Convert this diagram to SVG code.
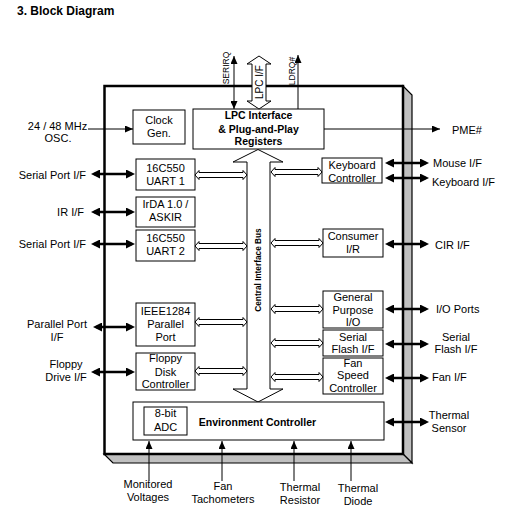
<svg xmlns="http://www.w3.org/2000/svg" width="515" height="525" viewBox="0 0 515 525">
<style>
text{font-family:"Liberation Sans",Arial,sans-serif;fill:#000}
.t{font-size:11px}
.c{text-anchor:middle}
.e{text-anchor:end}
.b{font-weight:bold;font-size:10.5px}
.r{font-size:8.5px;text-anchor:middle}
.box{fill:#fff;stroke:#000;stroke-width:1}
.bold{stroke:#000;stroke-width:2.5;fill:none;marker-start:url(#bh);marker-end:url(#bh)}
.thin{stroke:#000;stroke-width:1;fill:none;marker-end:url(#th)}
.thin2{stroke:#000;stroke-width:1;fill:none;marker-start:url(#th);marker-end:url(#th)}
.hol{fill:#fff;stroke:#000;stroke-width:1}
</style>
<defs>
<marker id="bh" viewBox="0 0 9 9" refX="6" refY="4.5" markerWidth="9" markerHeight="9" markerUnits="userSpaceOnUse" orient="auto-start-reverse"><path d="M0,0 L9,4.5 L0,9 z" fill="#000"/></marker>
<marker id="th" viewBox="0 0 8 7" refX="8" refY="3.5" markerWidth="8" markerHeight="7" markerUnits="userSpaceOnUse" orient="auto-start-reverse"><path d="M0,0 L8,3.5 L0,7 z" fill="#000"/></marker>
</defs>
<rect width="515" height="525" fill="#fff"/>
<text x="17" y="14.5" style="font-weight:bold;font-size:12px">3. Block Diagram</text>

<g id="chip">
<polygon points="403,86 412,95 412,463 403,454" fill="#c0c0c0" stroke="#000" stroke-width="1.2"/>
<polygon points="104,454 113,463 412,463 403,454" fill="#c0c0c0" stroke="#000" stroke-width="1.2"/>
<rect x="104.5" y="86" width="298.5" height="368" fill="none" stroke="#000" stroke-width="2.5"/>
</g>

<g id="bus">
<polygon class="hol" points="258,149.5 283,162 270,162 270,389 283,389 258,402 233,389 247,389 247,162 233,162"/>
<text transform="translate(261,270) rotate(-90)" style="font-size:8.3px;font-weight:bold;text-anchor:middle">Central Interface Bus</text>
</g>

<g id="lpc">
<rect class="box" x="193" y="109" width="131" height="40"/>
<text class="b c" x="258.5" y="119">LPC Interface</text>
<text class="b c" x="258.5" y="133">&amp; Plug-and-Play</text>
<text class="b c" x="258.5" y="145">Registers</text>
</g>
<g id="clock">
<rect class="box" x="133" y="110" width="52" height="34"/>
<text class="t c" x="159" y="124">Clock</text>
<text class="t c" x="159" y="137">Gen.</text>
</g>
<g id="uart1">
<rect class="box" x="136" y="159" width="59" height="31"/>
<text class="t c" x="165.5" y="172">16C550</text>
<text class="t c" x="165.5" y="185">UART 1</text>
</g>
<g id="irda">
<rect class="box" x="136" y="197" width="59" height="30"/>
<text class="t c" x="165.5" y="208">IrDA 1.0 /</text>
<text class="t c" x="165.5" y="221">ASKIR</text>
</g>
<g id="uart2">
<rect class="box" x="136" y="230" width="59" height="31"/>
<text class="t c" x="165.5" y="242">16C550</text>
<text class="t c" x="165.5" y="255">UART 2</text>
</g>
<g id="parallel">
<rect class="box" x="136" y="303" width="59" height="43"/>
<text class="t c" x="165.5" y="315">IEEE1284</text>
<text class="t c" x="165.5" y="328">Parallel</text>
<text class="t c" x="165.5" y="341">Port</text>
</g>
<g id="floppy">
<rect class="box" x="136" y="353" width="59" height="37"/>
<text class="t c" x="165.5" y="362">Floppy</text>
<text class="t c" x="165.5" y="376">Disk</text>
<text class="t c" x="165.5" y="388">Controller</text>
</g>
<g id="keyboard">
<rect class="box" x="322" y="158" width="60" height="25"/>
<text class="t c" x="352" y="169">Keyboard</text>
<text class="t c" x="352" y="182">Controller</text>
</g>
<g id="consumer">
<rect class="box" x="323" y="229" width="60" height="28"/>
<text class="t c" x="353" y="240">Consumer</text>
<text class="t c" x="353" y="253">I/R</text>
</g>
<g id="gpio">
<rect class="box" x="323" y="291" width="60" height="37"/>
<text class="t c" x="353" y="301">General</text>
<text class="t c" x="353" y="314">Purpose</text>
<text class="t c" x="353" y="326">I/O</text>
</g>
<g id="flash">
<rect class="box" x="323" y="330" width="60" height="26"/>
<text class="t c" x="353" y="341">Serial</text>
<text class="t c" x="353" y="353">Flash I/F</text>
</g>
<g id="fan">
<rect class="box" x="323" y="358" width="60" height="36"/>
<text class="t c" x="353" y="367">Fan</text>
<text class="t c" x="353" y="379">Speed</text>
<text class="t c" x="353" y="392">Controller</text>
</g>
<g id="env">
<rect class="box" x="133" y="402" width="251" height="38"/>
<text class="b c" x="257.5" y="426">Environment Controller</text>
</g>
<g id="adc">
<rect class="box" x="144" y="407" width="43" height="28"/>
<text class="t c" x="165.5" y="417">8-bit</text>
<text class="t c" x="165.5" y="431">ADC</text>
</g>

<g id="connectors">
<!-- LPC hollow arrow -->
<polygon class="hol" points="259,56 271,64 266,64 266,101 271,101 259,109 247,101 252,101 252,64 247,64"/>
<line class="thin2" x1="234" y1="56" x2="234" y2="109"/>
<line class="thin" x1="298" y1="109" x2="298" y2="55"/>
<line class="thin" x1="324" y1="129" x2="440" y2="129"/>
<line class="thin" x1="88" y1="129" x2="133" y2="129"/>
<!-- internal bus links left -->
<path class="hol" d="M195,175 l4,-4.5 v2 h44 v-2 l4,4.5 l-4,4.5 v-2 h-44 v2 z"/>
<path class="hol" d="M195,246 l4,-4.5 v2 h44 v-2 l4,4.5 l-4,4.5 v-2 h-44 v2 z"/>
<path class="hol" d="M195,322 l4,-4.5 v2 h44 v-2 l4,4.5 l-4,4.5 v-2 h-44 v2 z"/>
<path class="hol" d="M195,371 l4,-4.5 v2 h44 v-2 l4,4.5 l-4,4.5 v-2 h-44 v2 z"/>
<!-- internal bus links right -->
<path class="hol" d="M271,172 l4,-4.5 v2 h43 v-2 l4,4.5 l-4,4.5 v-2 h-43 v2 z"/>
<path class="hol" d="M271,243 l4,-4.5 v2 h44 v-2 l4,4.5 l-4,4.5 v-2 h-44 v2 z"/>
<path class="hol" d="M271,309 l4,-4.5 v2 h44 v-2 l4,4.5 l-4,4.5 v-2 h-44 v2 z"/>
<path class="hol" d="M271,343 l4,-4.5 v2 h44 v-2 l4,4.5 l-4,4.5 v-2 h-44 v2 z"/>
<path class="hol" d="M271,377 l4,-4.5 v2 h44 v-2 l4,4.5 l-4,4.5 v-2 h-44 v2 z"/>
<!-- external bold arrows left -->
<line class="bold" x1="94" y1="174" x2="132" y2="174"/>
<line class="bold" x1="94" y1="212" x2="132" y2="212"/>
<line class="bold" x1="94" y1="244" x2="132" y2="244"/>
<line class="bold" x1="96" y1="327" x2="132" y2="327"/>
<line class="bold" x1="94" y1="372" x2="132" y2="372"/>
<!-- external bold arrows right -->
<line class="bold" x1="388" y1="163" x2="426" y2="163"/>
<line class="bold" x1="388" y1="178" x2="426" y2="178"/>
<line class="bold" x1="388" y1="244" x2="426" y2="244"/>
<line class="bold" x1="388" y1="309" x2="426" y2="309"/>
<line class="bold" x1="388" y1="344" x2="426" y2="344"/>
<line class="bold" x1="388" y1="378" x2="426" y2="378"/>
<line class="bold" x1="388" y1="422" x2="426" y2="422"/>
<!-- bottom inputs -->
<line class="thin" x1="149" y1="481" x2="149" y2="441"/>
<line class="thin" x1="222" y1="481" x2="222" y2="441"/>
<line class="thin" x1="294" y1="481" x2="294" y2="441"/>
<line class="thin" x1="351" y1="481" x2="351" y2="441"/>
</g>

<g id="labels">
<text class="r" transform="translate(229,68) rotate(-90)">SERIRQ</text>
<text class="r" transform="translate(295,71) rotate(-90)">LDRQ#</text>
<text transform="translate(262.5,82) rotate(-90)" style="font-size:10px;text-anchor:middle">LPC I/F</text>
<text class="t" x="452" y="134">PME#</text>
<text class="t c" x="57.5" y="130">24 / 48 MHz</text>
<text class="t c" x="58" y="142">OSC.</text>
<text class="t e" x="86" y="179">Serial Port I/F</text>
<text class="t e" x="84" y="216">IR I/F</text>
<text class="t e" x="86" y="248">Serial Port I/F</text>
<text class="t c" x="57" y="328">Parallel Port</text>
<text class="t c" x="57" y="341">I/F</text>
<text class="t c" x="66" y="368">Floppy</text>
<text class="t c" x="66" y="381">Drive I/F</text>
<text class="t" x="433" y="167">Mouse I/F</text>
<text class="t" x="432" y="186">Keyboard I/F</text>
<text class="t" x="435" y="249">CIR I/F</text>
<text class="t" x="436" y="313">I/O Ports</text>
<text class="t c" x="456" y="341">Serial</text>
<text class="t c" x="456" y="353">Flash I/F</text>
<text class="t" x="432" y="381">Fan I/F</text>
<text class="t c" x="449" y="419">Thermal</text>
<text class="t c" x="449" y="432">Sensor</text>
<text class="t c" x="148" y="488">Monitored</text>
<text class="t c" x="148" y="501">Voltages</text>
<text class="t c" x="223" y="490">Fan</text>
<text class="t c" x="223" y="503">Tachometers</text>
<text class="t c" x="300" y="491">Thermal</text>
<text class="t c" x="300" y="504">Resistor</text>
<text class="t c" x="358" y="492">Thermal</text>
<text class="t c" x="358" y="505">Diode</text>
</g>
</svg>
